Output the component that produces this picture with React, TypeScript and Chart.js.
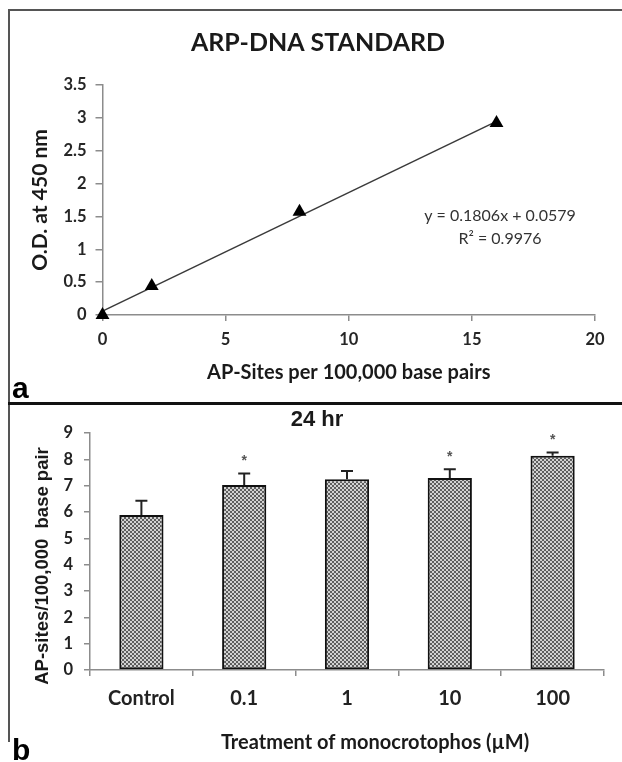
import React, { useEffect, useRef } from 'react';
import { Chart, registerables } from 'chart.js';

Chart.register(...registerables);

// ---------- Panel a: ARP-DNA standard ----------
const stdSites = [0, 2, 8, 16];
const stdOD = [0, 0.44, 1.57, 2.92];
const trendSlope = 0.1806;
const trendIntercept = 0.0579;
const trendRange = [0, 16];
const stdXTicks = [0, 5, 10, 15, 20];
const stdYTicks = [0, 0.5, 1, 1.5, 2, 2.5, 3, 3.5];
const equationLines = ['y = 0.1806x + 0.0579', 'R² = 0.9976'];

// ---------- Panel b: 24 hr ----------
const treatments = ['Control', '0.1', '1', '10', '100'];
const apSites = [5.89, 7.03, 7.24, 7.29, 8.14];
const apErrors = [0.54, 0.43, 0.32, 0.33, 0.12];
const significant = [false, true, false, true, true];
const apYTicks = [0, 1, 2, 3, 4, 5, 6, 7, 8, 9];

const AXIS_GRAY = '#8c8c8c';

function makePattern(): CanvasPattern | string {
  const c = document.createElement('canvas');
  c.width = 4;
  c.height = 4;
  const g = c.getContext('2d');
  if (!g) return '#999';
  g.fillStyle = '#d2d2d2';
  g.fillRect(0, 0, 4, 4);
  g.fillStyle = '#5e5e5e';
  g.fillRect(0, 0, 2, 2);
  g.fillRect(2, 2, 2, 2);
  const p = g.createPattern(c, 'repeat');
  return p || '#999';
}

export default function App() {
  const topRef = useRef<HTMLCanvasElement>(null);
  const botRef = useRef<HTMLCanvasElement>(null);

  useEffect(() => {
    const charts: Chart[] = [];

    // ----- top chart -----
    const topText = {
      id: 'topText',
      afterDraw(chart: any) {
        const ctx = chart.ctx;
        ctx.save();
        ctx.fillStyle = '#1a1a1a';
        ctx.textAlign = 'center';
        ctx.textBaseline = 'middle';
        ctx.font = 'bold 25px Lato';
        ctx.fillText('ARP-DNA STANDARD', 318, 43);
        ctx.font = '16px Lato';
        ctx.fillStyle = '#333';
        ctx.fillText(equationLines[0], 500, 216);
        ctx.fillText(equationLines[1], 500, 239);
        ctx.textAlign = 'left';
        ctx.textBaseline = 'alphabetic';
        ctx.fillStyle = '#000';
        ctx.font = 'bold 30px "Liberation Sans"';
        ctx.fillText('a', 12, 398);
        ctx.restore();
      },
    };

    if (topRef.current) {
      charts.push(
        new Chart(topRef.current, {
          type: 'scatter',
          data: {
            datasets: [
              {
                label: 'Standard',
                data: stdSites.map((x, i) => ({ x, y: stdOD[i] })),
                pointStyle: 'triangle',
                pointRadius: 8,
                pointBackgroundColor: '#000',
                pointBorderColor: '#000',
                pointBorderWidth: 0,
                showLine: false,
                clip: false,
              } as any,
              {
                type: 'line',
                label: 'Linear fit',
                data: trendRange.map((x) => ({ x, y: trendSlope * x + trendIntercept })),
                borderColor: '#3a3a3a',
                borderWidth: 1.5,
                pointRadius: 0,
                fill: false,
                showLine: true,
                clip: false,
              } as any,
            ],
          },
          options: {
            animation: false,
            responsive: false,
            layout: { padding: { top: 85, right: 27, left: 0, bottom: 0 } },
            plugins: { legend: { display: false }, tooltip: { enabled: false }, title: { display: false } },
            scales: {
              x: {
                type: 'linear',
                min: 0,
                max: 20,
                afterBuildTicks: (s: any) => {
                  s.ticks = stdXTicks.map((v) => ({ value: v }));
                },
                afterFit: (s: any) => {
                  s.height = 85;
                },
                border: { display: true, color: AXIS_GRAY, width: 1.5 },
                grid: { drawOnChartArea: false, drawTicks: true, tickLength: 6, color: AXIS_GRAY, lineWidth: 1.5 },
                ticks: {
                  font: { family: 'Lato', size: 16.5, weight: 'bold' },
                  color: '#262626',
                  padding: 9,
                  maxRotation: 0,
                  callback: (v: any) => String(v),
                },
                title: {
                  display: true,
                  text: 'AP-Sites per 100,000 base pairs',
                  font: { family: 'Lato', size: 20, weight: 'bold' },
                  color: '#1a1a1a',
                  padding: { top: 0, bottom: 15 },
                },
              },
              y: {
                type: 'linear',
                min: 0,
                max: 3.5,
                afterBuildTicks: (s: any) => {
                  s.ticks = stdYTicks.map((v) => ({ value: v }));
                },
                afterFit: (s: any) => {
                  s.width = 102.5;
                },
                border: { display: true, color: AXIS_GRAY, width: 1.5 },
                grid: { drawOnChartArea: false, drawTicks: true, tickLength: 7, color: AXIS_GRAY, lineWidth: 1.5 },
                ticks: {
                  font: { family: 'Lato', size: 16.5, weight: 'bold' },
                  color: '#262626',
                  padding: 9,
                  callback: (v: any) => String(v),
                },
                title: {
                  display: true,
                  text: 'O.D. at 450 nm',
                  font: { family: 'Lato', size: 21, weight: 'bold' },
                  color: '#1a1a1a',
                  padding: { top: 28, bottom: 0 },
                },
              },
            },
          } as any,
          plugins: [topText],
        })
      );
    }

    // ----- bottom chart -----
    const botDecor = {
      id: 'botDecor',
      afterDatasetsDraw(chart: any) {
        const ctx = chart.ctx;
        const meta = chart.getDatasetMeta(0);
        const ys = chart.scales.y;
        ctx.save();
        ctx.strokeStyle = '#222';
        ctx.lineWidth = 2;
        meta.data.forEach((bar: any, i: number) => {
          const top = ys.getPixelForValue(apSites[i]);
          const errTop = ys.getPixelForValue(apSites[i] + apErrors[i]);
          ctx.beginPath();
          ctx.moveTo(bar.x, top);
          ctx.lineTo(bar.x, errTop);
          ctx.moveTo(bar.x - 6, errTop);
          ctx.lineTo(bar.x + 6, errTop);
          ctx.stroke();
          if (significant[i]) {
            ctx.fillStyle = '#555';
            ctx.font = 'bold 14px "Liberation Sans"';
            ctx.textAlign = 'center';
            ctx.textBaseline = 'middle';
            ctx.fillText('*', bar.x, errTop - 12);
          }
        });
        ctx.restore();
      },
      afterDraw(chart: any) {
        const ctx = chart.ctx;
        ctx.save();
        ctx.fillStyle = '#1a1a1a';
        ctx.textAlign = 'center';
        ctx.textBaseline = 'middle';
        ctx.font = 'bold 22px "Liberation Sans"';
        ctx.fillText('24 hr', 317, 15);
        ctx.font = 'bold 20px Lato';
        ctx.fillText('Treatment of monocrotophos (\u00B5M)', 375, 338);
        ctx.save();
        ctx.translate(43, 161);
        ctx.rotate(-Math.PI / 2);
        ctx.font = 'bold 18.5px "Liberation Sans"';
        ctx.fillText('AP-sites/100,000  base pair', 0, 0);
        ctx.restore();
        ctx.textAlign = 'left';
        ctx.textBaseline = 'alphabetic';
        ctx.fillStyle = '#000';
        ctx.font = 'bold 30px "Liberation Sans"';
        ctx.fillText('b', 12, 355);
        ctx.restore();
      },
    };

    if (botRef.current) {
      charts.push(
        new Chart(botRef.current, {
          type: 'bar',
          data: {
            labels: treatments,
            datasets: [
              {
                label: 'AP-sites',
                data: apSites,
                backgroundColor: makePattern() as any,
                borderColor: '#111',
                borderWidth: 2,
                borderSkipped: false,
                barPercentage: 0.43,
                categoryPercentage: 1,
              },
            ],
          },
          options: {
            animation: false,
            responsive: false,
            layout: { padding: { top: 28, right: 18, left: 0, bottom: 0 } },
            plugins: { legend: { display: false }, tooltip: { enabled: false }, title: { display: false } },
            scales: {
              x: {
                afterFit: (s: any) => {
                  s.height = 92;
                },
                border: { display: true, color: AXIS_GRAY, width: 1.5 },
                grid: { offset: true, drawOnChartArea: false, drawTicks: true, tickLength: 6, color: AXIS_GRAY, lineWidth: 1.5 },
                ticks: {
                  font: { family: 'Lato', size: 20, weight: 'bold' },
                  color: '#222',
                  padding: 11,
                  maxRotation: 0,
                },
              },
              y: {
                min: 0,
                max: 9,
                afterBuildTicks: (s: any) => {
                  s.ticks = apYTicks.map((v) => ({ value: v }));
                },
                afterFit: (s: any) => {
                  s.width = 90;
                },
                border: { display: true, color: AXIS_GRAY, width: 1.5 },
                grid: { drawOnChartArea: false, drawTicks: true, tickLength: 6, color: AXIS_GRAY, lineWidth: 1.5 },
                ticks: {
                  font: { family: 'Lato', size: 16.5, weight: 'bold' },
                  color: '#222',
                  padding: 11,
                  callback: (v: any) => String(v),
                },
              },
            },
          } as any,
          plugins: [botDecor],
        })
      );
    }

    return () => {
      charts.forEach((c) => c.destroy());
    };
  }, []);

  return (
    <div style={{ position: 'absolute', left: 0, top: 0, width: 622, height: 762, background: '#fff', overflow: 'hidden' }}>
      <canvas ref={topRef} width={622} height={400} style={{ position: 'absolute', left: 0, top: 0, width: 622, height: 400, display: 'block' }} />
      <canvas ref={botRef} width={622} height={357} style={{ position: 'absolute', left: 0, top: 405, width: 622, height: 357, display: 'block' }} />
      <div style={{ position: 'absolute', left: 8, top: 9, width: 614, height: 2, background: '#555' }} />
      <div style={{ position: 'absolute', left: 8, top: 9, width: 2, height: 733, background: '#555' }} />
      <div style={{ position: 'absolute', left: 8, top: 402, width: 614, height: 3, background: '#111' }} />
    </div>
  );
}
